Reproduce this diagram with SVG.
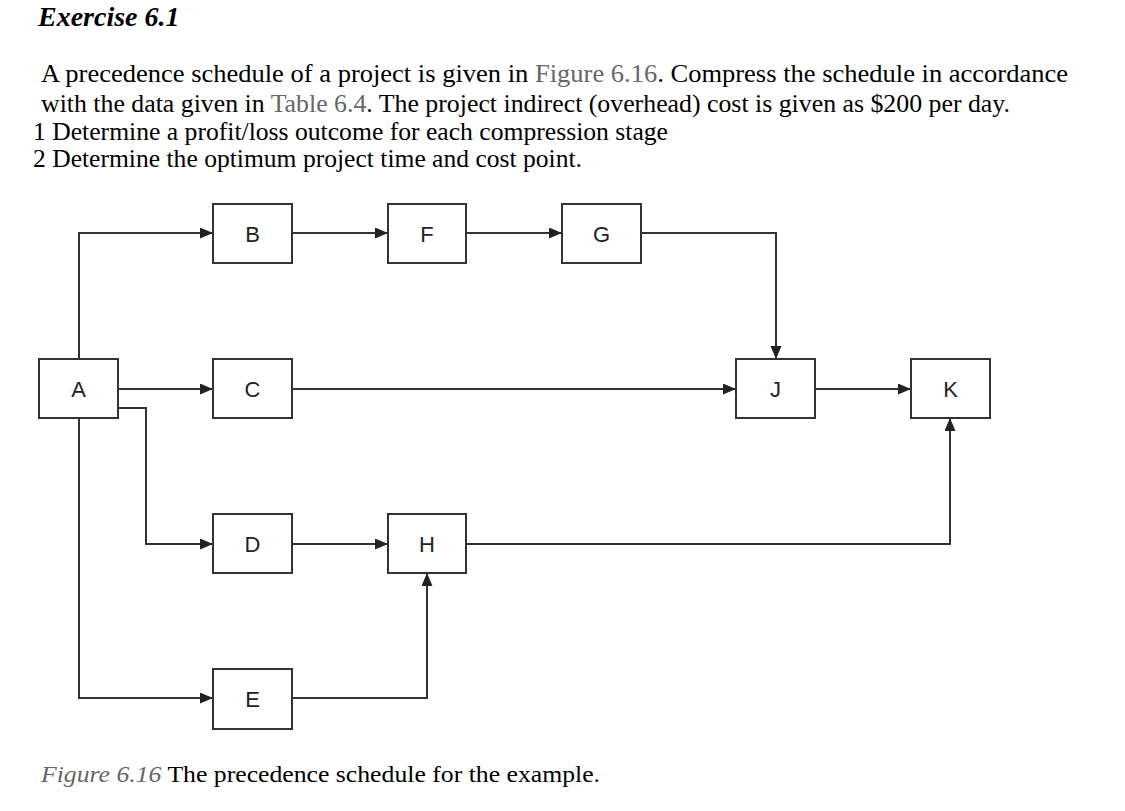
<svg xmlns="http://www.w3.org/2000/svg" width="1125" height="811" viewBox="0 0 1125 811">
<defs>
<style>
.t{font-family:"Liberation Serif","Times New Roman",serif;fill:#000}
.body{font-size:25px}
.ref{fill:#666}
.box{fill:#fff;stroke:#333;stroke-width:2}
.lbl{font-family:"Liberation Sans",Arial,sans-serif;font-size:22px;fill:#222;text-anchor:middle}
.con{fill:none;stroke:#333;stroke-width:2}
</style>
<marker id="arr" markerUnits="userSpaceOnUse" markerWidth="14" markerHeight="12" refX="13" refY="5.5" orient="auto">
<path d="M0,0 L13,5.5 L0,11 z" fill="#222"/>
</marker>
</defs>
<rect width="1125" height="811" fill="#fff"/>
<text class="t" x="38" y="26" font-size="28" font-style="italic" font-weight="bold">Exercise 6.1</text>
<text class="t body" x="41" y="82" textLength="1027" lengthAdjust="spacingAndGlyphs">A precedence schedule of a project is given in <tspan class="ref">Figure 6.16</tspan>. Compress the schedule in accordance</text>
<text class="t body" x="41" y="112" textLength="969" lengthAdjust="spacingAndGlyphs">with the data given in <tspan class="ref">Table 6.4</tspan>. The project indirect (overhead) cost is given as $200 per day.</text>
<text class="t body" x="33" y="140" textLength="635" lengthAdjust="spacingAndGlyphs">1 Determine a profit/loss outcome for each compression stage</text>
<text class="t body" x="33" y="167" textLength="549" lengthAdjust="spacingAndGlyphs">2 Determine the optimum project time and cost point.</text>
<g id="connectors">
<path class="con" d="M79,359 V233 H213" marker-end="url(#arr)"/>
<path class="con" d="M118,389 H213" marker-end="url(#arr)"/>
<path class="con" d="M118,408 H146 V544 H213" marker-end="url(#arr)"/>
<path class="con" d="M79,418 V698 H213" marker-end="url(#arr)"/>
<path class="con" d="M292,233 H388" marker-end="url(#arr)"/>
<path class="con" d="M466,233 H562" marker-end="url(#arr)"/>
<path class="con" d="M641,233 H776 V359" marker-end="url(#arr)"/>
<path class="con" d="M292,389 H736" marker-end="url(#arr)"/>
<path class="con" d="M815,389 H911" marker-end="url(#arr)"/>
<path class="con" d="M292,544 H388" marker-end="url(#arr)"/>
<path class="con" d="M292,698 H427 V573" marker-end="url(#arr)"/>
<path class="con" d="M466,544 H950 V418" marker-end="url(#arr)"/>
</g>
<g id="node-A"><rect class="box" x="39" y="359" width="79" height="59"/><text class="lbl" x="78.5" y="397">A</text></g>
<g id="node-B"><rect class="box" x="213" y="204" width="79" height="59"/><text class="lbl" x="252.5" y="242">B</text></g>
<g id="node-C"><rect class="box" x="213" y="359" width="79" height="59"/><text class="lbl" x="252.5" y="397">C</text></g>
<g id="node-D"><rect class="box" x="213" y="514" width="79" height="59"/><text class="lbl" x="252.5" y="552">D</text></g>
<g id="node-E"><rect class="box" x="213" y="669" width="79" height="60"/><text class="lbl" x="252.5" y="707">E</text></g>
<g id="node-F"><rect class="box" x="388" y="204" width="78" height="59"/><text class="lbl" x="427" y="242">F</text></g>
<g id="node-G"><rect class="box" x="562" y="204" width="79" height="59"/><text class="lbl" x="601.5" y="242">G</text></g>
<g id="node-H"><rect class="box" x="388" y="514" width="78" height="59"/><text class="lbl" x="427" y="552">H</text></g>
<g id="node-J"><rect class="box" x="736" y="359" width="79" height="59"/><text class="lbl" x="775.5" y="397">J</text></g>
<g id="node-K"><rect class="box" x="911" y="359" width="79" height="59"/><text class="lbl" x="950.5" y="397">K</text></g>
<text class="t" x="41" y="782" font-size="24" textLength="559" lengthAdjust="spacingAndGlyphs"><tspan class="ref" font-style="italic">Figure 6.16</tspan> The precedence schedule for the example.</text>
</svg>
